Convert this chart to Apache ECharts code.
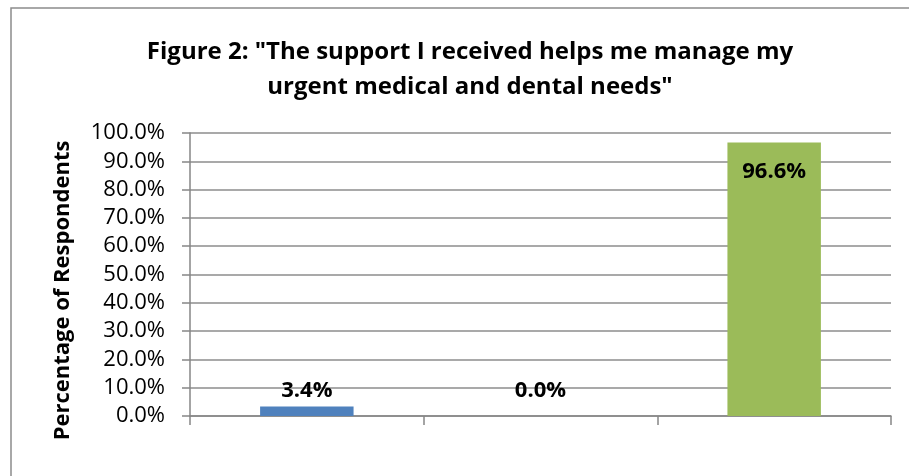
<!DOCTYPE html>
<html>
<head>
<meta charset="utf-8">
<script src="https://cdn.jsdelivr.net/npm/echarts@6/dist/echarts.min.js"></script>
<style>
  html, body { margin: 0; padding: 0; background: #fff; }
  #chart { width: 909px; height: 476px; }
</style>
</head>
<body>
<div id="chart"></div>
<script>
// Survey response shares (percent of respondents)
const categories = ['Agree', 'Neutral', 'Disagree'];
const values = [3.4, 0.0, 96.6];
const barColors = ['#4F81BD', '#C0504D', '#9BBB59'];
const yTicks = [0, 10, 20, 30, 40, 50, 60, 70, 80, 90, 100];

const titleText = 'Figure 2: "The support I received helps me manage my\nurgent medical and dental needs"';
const fontFamily = '"Open Sans", "Noto Sans", sans-serif';

const chart = echarts.init(document.getElementById('chart'), null, { renderer: 'canvas' });

// label placement per bar: small bars get the value above, the tall bar inside its top
const labelFor = (v, i) => {
  if (i === 2) return { position: 'insideTop', distance: 18 };
  if (v === 0) return { position: 'top', distance: 14 };
  return { position: 'top', distance: 5 };
};

chart.setOption({
  backgroundColor: '#ffffff',
  animation: false,
  title: {
    text: titleText,
    left: 465,
    top: 30,
    textAlign: 'center',
    textStyle: {
      fontFamily: fontFamily,
      fontSize: 24,
      fontWeight: 'bold',
      color: '#000',
      lineHeight: 35
    }
  },
  graphic: [{
    type: 'rect',
    shape: { x: 11, y: 8, width: 1000, height: 1000 },
    style: { fill: 'none', stroke: '#8c8c8c', lineWidth: 1.5 },
    silent: true
  }],
  grid: { left: 190, right: 18, top: 133, bottom: 60 },
  xAxis: {
    type: 'category',
    data: categories,
    axisLine: { show: true, lineStyle: { color: '#868686', width: 1.5 } },
    axisTick: { show: true, alignWithLabel: false, length: 9, lineStyle: { color: '#868686', width: 1.5 } },
    axisLabel: { show: false },
    splitLine: { show: false }
  },
  yAxis: {
    type: 'value',
    min: yTicks[0],
    max: yTicks[yTicks.length - 1],
    interval: 10,
    name: 'Percentage of Respondents',
    nameLocation: 'middle',
    nameGap: 116,
    nameRotate: 90,
    nameTextStyle: {
      fontFamily: fontFamily,
      fontSize: 22,
      fontWeight: 'bold',
      color: '#000',
      padding: [0, 32, 0, 0]
    },
    axisLine: { show: true, lineStyle: { color: '#868686', width: 1.5 } },
    axisTick: { show: true, inside: false, length: 8, lineStyle: { color: '#868686', width: 1.5 } },
    axisLabel: {
      margin: 25,
      fontFamily: fontFamily,
      fontSize: 22,
      color: '#000',
      formatter: v => v.toFixed(1) + '%'
    },
    splitLine: { show: true, lineStyle: { color: '#8c8c8c', width: 1.5 } }
  },
  series: [{
    type: 'bar',
    barWidth: '40%',
    data: values.map((v, i) => ({
      value: v,
      itemStyle: { color: barColors[i] },
      label: labelFor(v, i)
    })),
    label: {
      show: true,
      fontFamily: fontFamily,
      fontSize: 22,
      fontWeight: 'bold',
      color: '#000',
      formatter: p => p.value.toFixed(1) + '%'
    }
  }]
});
</script>
</body>
</html>
